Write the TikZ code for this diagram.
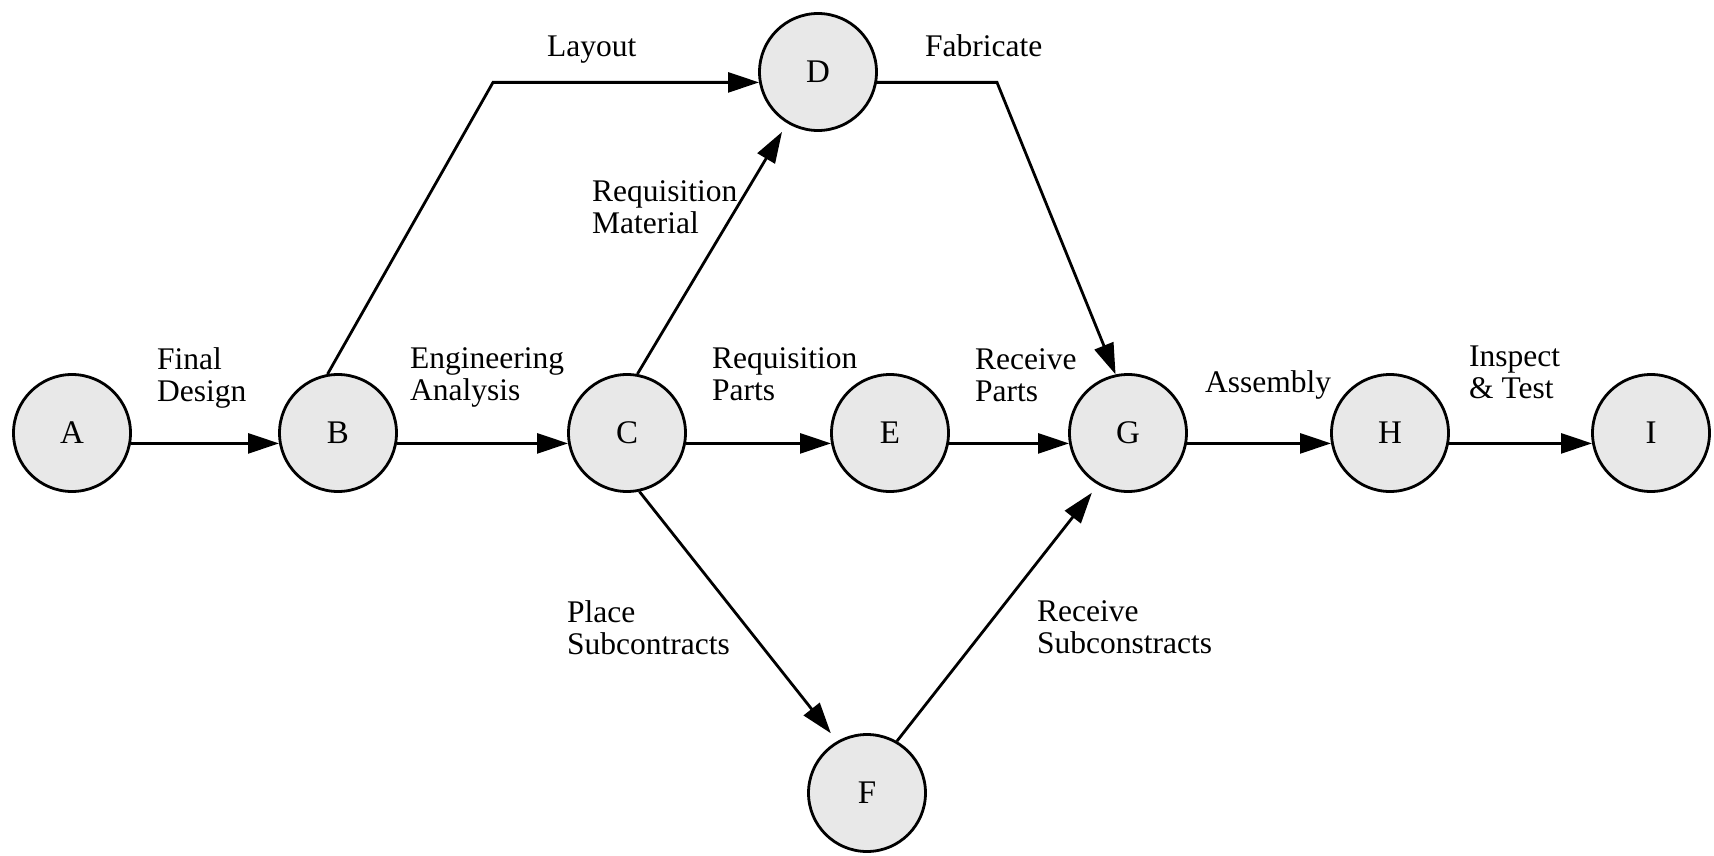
\documentclass[tikz,border=0pt]{standalone}
\usepackage{fontspec}
\setmainfont{Liberation Serif}
\usetikzlibrary{arrows.meta}
\begin{document}
\begin{tikzpicture}[x=1pt,y=-1pt,
  ev/.style={circle, draw, line width=2.8pt, fill=black!9, minimum size=117pt, inner sep=0pt, font=\fontsize{33}{33}\selectfont},
  act/.style={line width=2.8pt, -{Triangle[length=31pt,width=20pt]}},
  lbl/.style={anchor=base west, align=left, inner sep=0pt, font=\fontsize{31.5}{32}\selectfont}]
\useasboundingbox (0,0) rectangle (1714,856);
% events
\node[ev] (A) at (72,433) {A};
\node[ev] (B) at (338,433) {B};
\node[ev] (C) at (627,433) {C};
\node[ev] (D) at (818,72) {D};
\node[ev] (E) at (890,433) {E};
\node[ev] (F) at (867,793) {F};
\node[ev] (G) at (1128,433) {G};
\node[ev] (H) at (1390,433) {H};
\node[ev] (I) at (1651,433) {I};
% bend points
\coordinate (k1) at (493,0);
\coordinate (k2) at (997,0);
% activities
\draw[act] (A.-10) -- (B.190);
\draw[act] (B.-10) -- (C.190);
\draw[act] (C.-10) -- (E.190);
\draw[act] (E.-10) -- (G.190);
\draw[act] (G.-10) -- (H.190);
\draw[act] (H.-10) -- (I.190);
\draw[act] (B.100) -- (k1 |- D.190) -- (D.190);
\draw[act] (D.-10) -- (k2 |- D.-10) -- (G.102);
\draw[act, shorten >=10pt] (C.80) -- (D.239);
\draw[act, shorten >=10pt] (C.282) -- (F.120);
\draw[act, shorten >=10pt] (F.60) -- (G.240);
% labels (anchor at baseline of last line)
\node[lbl] (lAB) at (157,401) {Final\\Design};
\node[lbl] (lBC) at (410,400) {Engineering\\Analysis};
\node[lbl] (lCE) at (712,400) {Requisition\\Parts};
\node[lbl] (lEG) at (975,401) {Receive\\Parts};
\node[lbl] (lGH) at (1205,392) {Assembly};
\node[lbl] (lHI) at (1469,398) {Inspect\\\& Test};
\node[lbl] (lBD) at (547,57) {Layout};
\node[lbl] (lDG) at (925,57) {Fabricate};
\node[lbl] (lCD) at (592,233) {Requisition\\Material};
\node[lbl] (lCF) at (567,654) {Place\\Subcontracts};
\node[lbl] (lFG) at (1037,653) {Receive\\Subconstracts};
\end{tikzpicture}
\end{document}
